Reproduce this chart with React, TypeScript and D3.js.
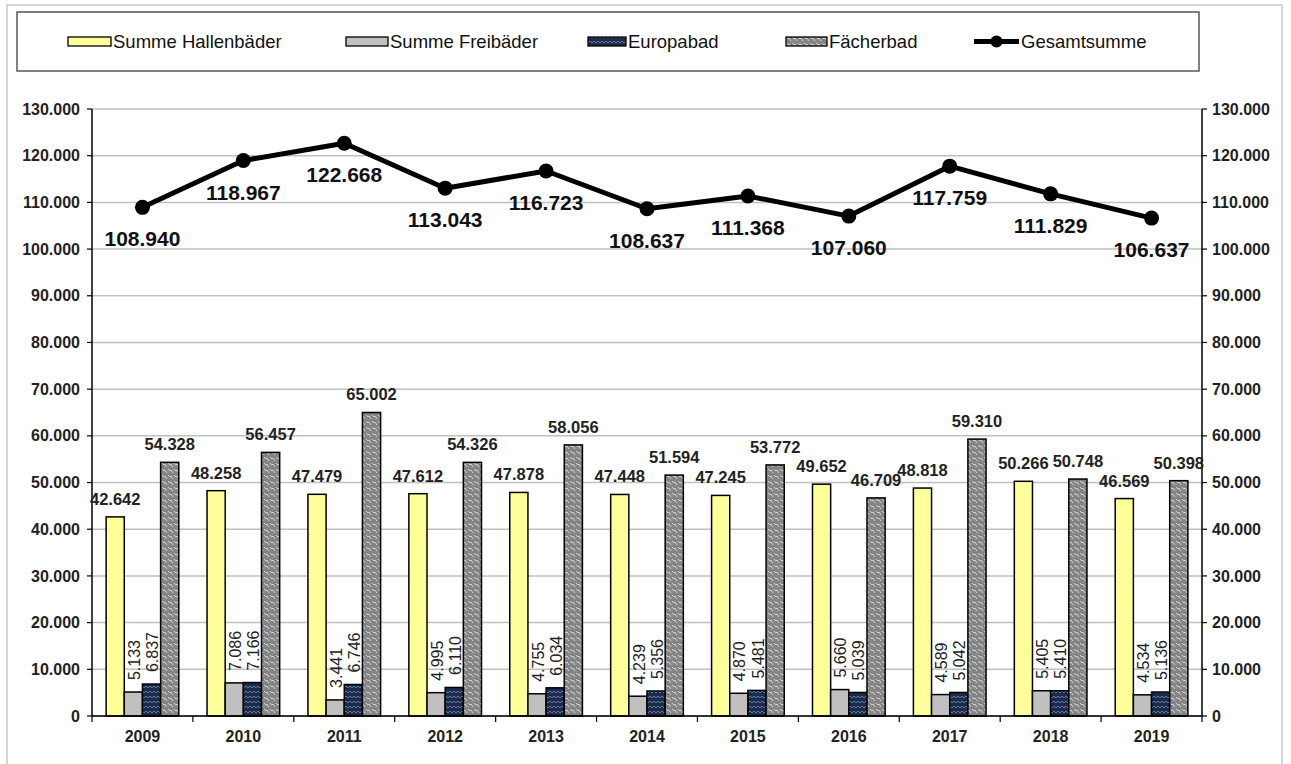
import React from "react";
import * as d3 from "d3";

const years = ["2009","2010","2011","2012","2013","2014","2015","2016","2017","2018","2019"];
const hallen = [42642,48258,47479,47612,47878,47448,47245,49652,48818,50266,46569];
const frei = [5133,7086,3441,4995,4755,4239,4870,5660,4589,5405,4534];
const europa = [6837,7166,6746,6110,6034,5356,5481,5039,5042,5410,5136];
const faecher = [54328,56457,65002,54326,58056,51594,53772,46709,59310,50748,50398];
const gesamt = [108940,118967,122668,113043,116723,108637,111368,107060,117759,111829,106637];
const yTicks = [0,10000,20000,30000,40000,50000,60000,70000,80000,90000,100000,110000,120000,130000];
const seriesNames = ["Summe Hallenbäder","Summe Freibäder","Europabad","Fächerbad","Gesamtsumme"];

const W = 1291, H = 764;
const left = 92, right = 1202, top = 109, bottom = 716;
const FONT = "Arial, 'Liberation Sans', Helvetica, sans-serif";

const fmt = (v: number) => {
  const s = String(Math.round(v));
  return s.replace(/\B(?=(\d{3})+(?!\d))/g, ".");
};

export default function App() {
  const x = d3.scaleBand<string>().domain(years).range([left, right]).paddingInner(0).paddingOuter(0);
  const y = d3.scaleLinear().domain([0, 130000]).range([bottom, top]);
  const bw = x.bandwidth() * 0.18;
  const groupW = bw * 4;
  const barX = (i: number, k: number) => (x(years[i]) as number) + x.bandwidth() / 2 - groupW / 2 + k * bw;
  const cx = (i: number) => (x(years[i]) as number) + x.bandwidth() / 2;
  const line = d3.line<number>().x((_, i) => cx(i)).y((d) => y(d));

  const fills = ["#FFFF99", "#C0C0C0", "url(#patEuropa)", "url(#patFaecher)"];
  const series = [hallen, frei, europa, faecher];

  const legendItems = [
    { x: 68, tx: 113 },
    { x: 346, tx: 390 },
    { x: 588, tx: 628 },
    { x: 786, tx: 829 },
    { x: 974, tx: 1021 },
  ];

  return (
    <svg width={W} height={H} style={{ position: "absolute", left: 0, top: 0, background: "#fff" }} fontFamily={FONT}>
      <defs>
        <pattern id="patEuropa" width="8" height="5" patternUnits="userSpaceOnUse">
          <rect width="8" height="5" fill="#1d2a48" />
          <path d="M0 3 L2 1 L4 3 L6 1 L8 3" fill="none" stroke="#5a7bb0" strokeWidth="1" />
        </pattern>
        <pattern id="patFaecher" width="6" height="6" patternUnits="userSpaceOnUse">
          <rect width="6" height="6" fill="#858585" />
          <path d="M0 1 L2 3 L3 2 L5 5" fill="none" stroke="#d8d8d8" strokeWidth="0.9" />
        </pattern>
      </defs>
      <rect x={7} y={5} width={1275} height={770} fill="none" stroke="#c8c8c8" strokeWidth={1.5} />

      {/* legend */}
      <rect x={17} y={12} width={1182} height={59} fill="#fff" stroke="#555" strokeWidth={1.5} />
      {seriesNames.map((n, k) => {
        const it = legendItems[k];
        return (
          <g key={n}>
            {k < 4 ? (
              <rect x={it.x} y={37} width={it.tx - it.x - 2} height={9} fill={fills[k]} stroke="#000" strokeWidth={1.3} />
            ) : (
              <g>
                <line x1={it.x} x2={it.tx - 2} y1={41.5} y2={41.5} stroke="#000" strokeWidth={5} />
                <circle cx={(it.x + it.tx - 2) / 2} cy={41.5} r={6} fill="#000" />
              </g>
            )}
            <text x={it.tx} y={47.5} fontSize={18.5} fill="#111">{n}</text>
          </g>
        );
      })}

      {/* gridlines */}
      {yTicks.map((t) => (
        <line key={"g" + t} x1={left} x2={right} y1={y(t)} y2={y(t)} stroke="#c0c0c0" strokeWidth={1.5} />
      ))}

      {/* bars */}
      {series.map((s, k) =>
        s.map((v, i) => (
          <rect key={k + "-" + i} x={barX(i, k)} y={y(v)} width={bw} height={bottom - y(v)} fill={fills[k]} stroke="#000" strokeWidth={1.5} />
        ))
      )}

      {/* axes */}
      <line x1={left} x2={left} y1={top} y2={bottom} stroke="#000" strokeWidth={1.5} />
      <line x1={right} x2={right} y1={top} y2={bottom} stroke="#000" strokeWidth={1.5} />
      <line x1={left} x2={right} y1={bottom} y2={bottom} stroke="#000" strokeWidth={1.5} />
      {yTicks.map((t) => (
        <g key={"t" + t}>
          <line x1={left - 5} x2={left} y1={y(t)} y2={y(t)} stroke="#000" strokeWidth={1.2} />
          <line x1={right} x2={right + 5} y1={y(t)} y2={y(t)} stroke="#000" strokeWidth={1.2} />
          <text x={80} y={y(t)} dy="0.35em" textAnchor="end" fontSize={16} fontWeight="bold" fill="#222">{fmt(t)}</text>
          <text x={1212} y={y(t)} dy="0.35em" textAnchor="start" fontSize={16} fontWeight="bold" fill="#222">{fmt(t)}</text>
        </g>
      ))}
      {years.concat(["end"]).map((yr, i) => {
        const xx = left + i * x.bandwidth();
        return <line key={"xt" + i} x1={xx} x2={xx} y1={bottom} y2={bottom + 6} stroke="#000" strokeWidth={1.2} />;
      })}
      {years.map((yr, i) => (
        <text key={"xl" + yr} x={cx(i)} y={742} textAnchor="middle" fontSize={16} fontWeight="bold" fill="#222">{yr}</text>
      ))}

      {/* bar labels */}
      {[0, 3].map((k) =>
        series[k].map((v, i) => (
          <text key={"bl" + k + i} x={barX(i, k) + bw / 2} y={y(v) - 12} textAnchor="middle" fontSize={16.5} fontWeight="bold" fill="#222">{fmt(v)}</text>
        ))
      )}
      {[1, 2].map((k) =>
        series[k].map((v, i) => {
          const tx = barX(i, k) + bw / 2 + 1;
          const ty = y(v) - 32;
          return (
            <text key={"rl" + k + i} x={tx} y={ty} transform={`rotate(-90 ${tx} ${ty})`} textAnchor="middle" dy="0.35em" fontSize={16} fill="#222">{fmt(v)}</text>
          );
        })
      )}

      {/* total line */}
      <path d={line(gesamt) || ""} fill="none" stroke="#000" strokeWidth={5} strokeLinejoin="round" />
      {gesamt.map((v, i) => (
        <circle key={"c" + i} cx={cx(i)} cy={y(v)} r={7.5} fill="#000" />
      ))}
      {gesamt.map((v, i) => (
        <text key={"gl" + i} x={cx(i)} y={y(v) + 39} textAnchor="middle" fontSize={21} fontWeight="bold" fill="#111">{fmt(v)}</text>
      ))}
    </svg>
  );
}
